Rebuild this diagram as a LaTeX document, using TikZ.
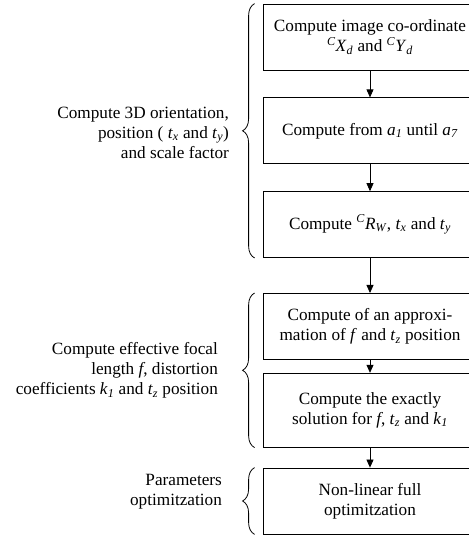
\documentclass[tikz,border=0pt]{standalone}
\usepackage{fontspec}
\setmainfont[Ligatures=TeX]{Liberation Serif}
\usetikzlibrary{arrows.meta, positioning, decorations.pathreplacing}

% italic symbols set in the text font
\newcommand{\var}[1]{\textit{#1}}
\newcommand{\subv}[2]{\textit{#1}\textsubscript{\textit{#2}}}
\newcommand{\presup}[3]{\textsuperscript{\textit{#1}}\textit{#2}\textsubscript{\textit{#3}}}

\begin{document}
\begin{tikzpicture}[
    x=1pt, y=1pt,
    node distance=27pt,
    font=\fontsize{17.2}{20}\selectfont,
    stepbox/.style={rectangle, draw, line width=0.8pt, minimum width=214pt, minimum height=66pt, align=center, inner sep=2pt},
    arrow/.style={-{Triangle[length=8pt, width=7pt]}, line width=0.8pt},
    groupbrace/.style={decorate, decoration={brace, amplitude=12pt}, line width=0.8pt},
    grouplabel/.style={midway, anchor=east, align=right},
]
    \useasboundingbox (0,0) rectangle (469,536);
    \clip (0,0) rectangle (469,536);

    \node[stepbox] at (370,499) (coord) {Compute image co-ordinate\\ \presup{C}{X}{d} and \presup{C}{Y}{d}};
    \node[stepbox, below=of coord] (avec) {Compute from \subv{a}{1} until \subv{a}{7}};
    \node[stepbox, below=of avec] (rot) {Compute \presup{C}{R}{W}, \subv{t}{x} and \subv{t}{y}};
    \node[stepbox, below=35pt of rot] (approx) {Compute of an approxi-\\ mation of \var{f} and \subv{t}{z} position};
    \node[stepbox, below=13pt of approx, minimum height=74pt] (exact) {Compute the exactly\\ solution for \var{f}, \subv{t}{z} and \subv{k}{1}};
    \node[stepbox, below=20pt of exact] (optim) {Non-linear full\\ optimitzation};

    \draw[arrow] (coord) -- (avec);
    \draw[arrow] (avec) -- (rot);
    \draw[arrow] (rot) -- (approx);
    \draw[arrow] (approx) -- (exact);
    \draw[arrow] (exact) -- (optim);

    % stage braces with their labels
    \draw[groupbrace] ([xshift=-8pt]rot.south west) -- ([xshift=-8pt]coord.north west)
        node[grouplabel, xshift=-22pt, yshift=-2pt] {Compute 3D orientation,\\ position ( \subv{t}{x} and \subv{t}{y})\\ and scale factor};
    \draw[groupbrace] ([xshift=-8pt]exact.south west) -- ([xshift=-8pt]approx.north west)
        node[grouplabel, xshift=-33pt] {Compute effective focal\\ length \var{f}, distortion\\ coefficients \subv{k}{1} and \subv{t}{z} position};
    \draw[groupbrace] ([xshift=-8pt]optim.south west) -- ([xshift=-8pt]optim.north west)
        node[grouplabel, xshift=-29pt, yshift=9pt] {Parameters\\ optimitzation};
\end{tikzpicture}
\end{document}
